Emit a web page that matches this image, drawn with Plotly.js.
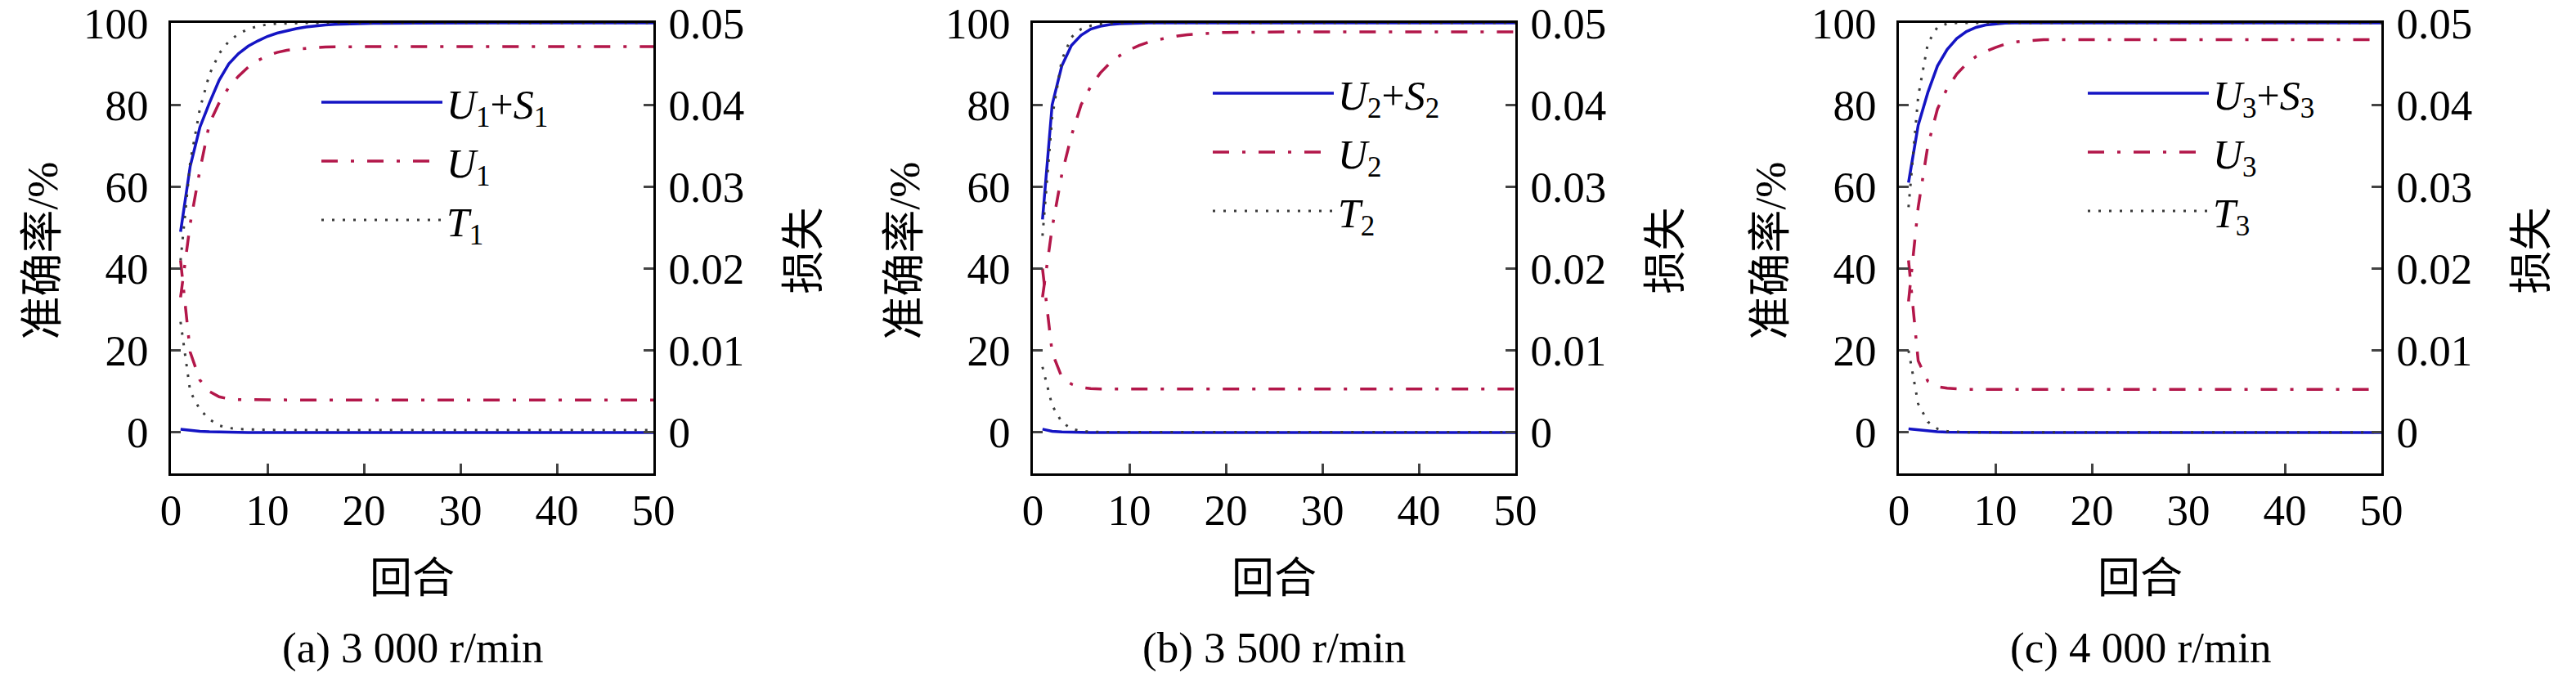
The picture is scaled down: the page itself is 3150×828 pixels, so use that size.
<!DOCTYPE html>
<html><head><meta charset="utf-8">
<script src="https://cdn.plot.ly/plotly-3.0.1.min.js"></script>
<style>html,body{margin:0;padding:0;background:#fff}#chart{width:3150px;height:828px}</style>
</head><body><div id="chart"></div>
<script>
const epochs=[1,2,3,4,5,6,7,8,9,10,11,12,13,14,15,16,17,18,19,20,21,22,23,24,25,26,27,28,29,30,31,32,33,34,35,36,37,38,39,40,41,42,43,44,45,46,47,48,49,50];

// Panel (a) 3 000 r/min
const accA_US=[49,65,74.5,80.5,86,90,92.5,94.3,95.6,96.7,97.5,98.1,98.6,99,99.3,99.5,99.65,99.75,99.82,99.87,99.9,99.92,99.94,99.95,99.96,99.97,99.97,99.98,99.98,99.99,99.99,99.99,99.99,100,100,100,100,100,100,100,100,100,100,100,100,100,100,100,100,100];
const accA_U=[33,51,64,75.5,80.5,84.3,87,89.2,90.8,92,92.8,93.3,93.6,93.8,94,94.1,94.15,94.2,94.2,94.2,94.2,94.2,94.2,94.2,94.2,94.2,94.2,94.2,94.2,94.2,94.2,94.2,94.2,94.2,94.2,94.2,94.2,94.2,94.2,94.2,94.2,94.2,94.2,94.2,94.2,94.2,94.2,94.2,94.2,94.2];
const accA_T=[42,66,79,87.5,92.5,95.5,97.3,98.5,99.2,99.6,99.8,99.9,99.95,100,100,100,100,100,100,100,100,100,100,100,100,100,100,100,100,100,100,100,100,100,100,100,100,100,100,100,100,100,100,100,100,100,100,100,100,100];
const lossA_US=[0.0004,0.00025,0.00014,0.00008,0.00004,0.00002,0.00001,0,0,0,0,0,0,0,0,0,0,0,0,0,0,0,0,0,0,0,0,0,0,0,0,0,0,0,0,0,0,0,0,0,0,0,0,0,0,0,0,0,0,0];
const lossA_U=[0.021,0.0098,0.0064,0.005,0.00435,0.0041,0.00402,0.004,0.00398,0.00396,0.00395,0.00395,0.00395,0.00395,0.00395,0.00395,0.00395,0.00395,0.00395,0.00395,0.00395,0.00395,0.00395,0.00395,0.00395,0.00395,0.00395,0.00395,0.00395,0.00395,0.00395,0.00395,0.00395,0.00395,0.00395,0.00395,0.00395,0.00395,0.00395,0.00395,0.00395,0.00395,0.00395,0.00395,0.00395,0.00395,0.00395,0.00395,0.00395,0.00395];
const lossA_T=[0.0135,0.005,0.0028,0.0016,0.00085,0.00055,0.00042,0.00036,0.00033,0.00031,0.0003,0.0003,0.0003,0.0003,0.0003,0.0003,0.0003,0.0003,0.0003,0.0003,0.0003,0.0003,0.0003,0.0003,0.0003,0.0003,0.0003,0.0003,0.0003,0.0003,0.0003,0.0003,0.0003,0.0003,0.0003,0.0003,0.0003,0.0003,0.0003,0.0003,0.0003,0.0003,0.0003,0.0003,0.0003,0.0003,0.0003,0.0003,0.0003,0.0003];

// Panel (b) 3 500 r/min
const accB_US=[52,80,89.5,94.5,97,98.5,99.2,99.6,99.8,99.9,99.95,100,100,100,100,100,100,100,100,100,100,100,100,100,100,100,100,100,100,100,100,100,100,100,100,100,100,100,100,100,100,100,100,100,100,100,100,100,100,100];
const accB_U=[33,50,63,72.5,80,84.5,87.8,90.2,92,93.4,94.5,95.3,95.9,96.4,96.8,97.1,97.3,97.5,97.6,97.65,97.7,97.75,97.8,97.8,97.8,97.8,97.8,97.8,97.8,97.8,97.8,97.8,97.8,97.8,97.8,97.8,97.8,97.8,97.8,97.8,97.8,97.8,97.8,97.8,97.8,97.8,97.8,97.8,97.8,97.8];
const accB_T=[48,77,91,96.5,98.5,99.3,99.7,99.9,100,100,100,100,100,100,100,100,100,100,100,100,100,100,100,100,100,100,100,100,100,100,100,100,100,100,100,100,100,100,100,100,100,100,100,100,100,100,100,100,100,100];
const lossB_US=[0.0004,0.00015,0.00006,0.00002,0,0,0,0,0,0,0,0,0,0,0,0,0,0,0,0,0,0,0,0,0,0,0,0,0,0,0,0,0,0,0,0,0,0,0,0,0,0,0,0,0,0,0,0,0,0];
const lossB_U=[0.02,0.00975,0.00675,0.0059,0.0055,0.00535,0.0053,0.0053,0.0053,0.0053,0.0053,0.0053,0.0053,0.0053,0.0053,0.0053,0.0053,0.0053,0.0053,0.0053,0.0053,0.0053,0.0053,0.0053,0.0053,0.0053,0.0053,0.0053,0.0053,0.0053,0.0053,0.0053,0.0053,0.0053,0.0053,0.0053,0.0053,0.0053,0.0053,0.0053,0.0053,0.0053,0.0053,0.0053,0.0053,0.0053,0.0053,0.0053,0.0053,0.0053];
const lossB_T=[0.008,0.0033,0.00125,0.00045,0.00015,0.00008,0.00005,0.00003,0.00003,0.00003,0.00003,0.00003,0.00003,0.00003,0.00003,0.00003,0.00003,0.00003,0.00003,0.00003,0.00003,0.00003,0.00003,0.00003,0.00003,0.00003,0.00003,0.00003,0.00003,0.00003,0.00003,0.00003,0.00003,0.00003,0.00003,0.00003,0.00003,0.00003,0.00003,0.00003,0.00003,0.00003,0.00003,0.00003,0.00003,0.00003,0.00003,0.00003,0.00003,0.00003];

// Panel (c) 4 000 r/min
const accC_US=[61,75,83,89.5,93.5,96.2,97.9,98.9,99.5,99.8,99.95,100,100,100,100,100,100,100,100,100,100,100,100,100,100,100,100,100,100,100,100,100,100,100,100,100,100,100,100,100,100,100,100,100,100,100,100,100,100,100];
const accC_U=[32,55,70,79,84,87.5,90,91.8,93,94,94.8,95.3,95.6,95.8,95.9,95.9,95.9,95.9,95.9,95.9,95.9,95.9,95.9,95.9,95.9,95.9,95.9,95.9,95.9,95.9,95.9,95.9,95.9,95.9,95.9,95.9,95.9,95.9,95.9,95.9,95.9,95.9,95.9,95.9,95.9,95.9,95.9,95.9,95.9,95.9];
const accC_T=[55,82,95,99,99.8,100,100,100,100,100,100,100,100,100,100,100,100,100,100,100,100,100,100,100,100,100,100,100,100,100,100,100,100,100,100,100,100,100,100,100,100,100,100,100,100,100,100,100,100,100];
const lossC_US=[0.00045,0.0003,0.00015,0.00008,0.00004,0.00002,0.00001,0,0,0,0,0,0,0,0,0,0,0,0,0,0,0,0,0,0,0,0,0,0,0,0,0,0,0,0,0,0,0,0,0,0,0,0,0,0,0,0,0,0,0];
const lossC_U=[0.021,0.00875,0.00625,0.0056,0.0054,0.0053,0.00525,0.00525,0.00525,0.00525,0.00525,0.00525,0.00525,0.00525,0.00525,0.00525,0.00525,0.00525,0.00525,0.00525,0.00525,0.00525,0.00525,0.00525,0.00525,0.00525,0.00525,0.00525,0.00525,0.00525,0.00525,0.00525,0.00525,0.00525,0.00525,0.00525,0.00525,0.00525,0.00525,0.00525,0.00525,0.00525,0.00525,0.00525,0.00525,0.00525,0.00525,0.00525,0.00525,0.00525];
const lossC_T=[0.01,0.0035,0.0013,0.00045,0.00015,0.00005,0.00002,0.00002,0.00002,0.00002,0.00002,0.00002,0.00002,0.00002,0.00002,0.00002,0.00002,0.00002,0.00002,0.00002,0.00002,0.00002,0.00002,0.00002,0.00002,0.00002,0.00002,0.00002,0.00002,0.00002,0.00002,0.00002,0.00002,0.00002,0.00002,0.00002,0.00002,0.00002,0.00002,0.00002,0.00002,0.00002,0.00002,0.00002,0.00002,0.00002,0.00002,0.00002,0.00002,0.00002];

const xTicks=[0,10,20,30,40,50];
const yTicks=[0,20,40,60,80,100];
const y2Ticks=[0,0.01,0.02,0.03,0.04,0.05];
const y2Text=["0","0.01","0.02","0.03","0.04","0.05"];
const xTitle="回合", yTitle="准确率/%", y2Title="损失";
const captions=["(a) 3 000 r/min","(b) 3 500 r/min","(c) 4 000 r/min"];
const legendNames=[
 ["<i>U</i><sub>1</sub>+<i>S</i><sub>1</sub>","<i>U</i><sub>1</sub>","<i>T</i><sub>1</sub>"],
 ["<i>U</i><sub>2</sub>+<i>S</i><sub>2</sub>","<i>U</i><sub>2</sub>","<i>T</i><sub>2</sub>"],
 ["<i>U</i><sub>3</sub>+<i>S</i><sub>3</sub>","<i>U</i><sub>3</sub>","<i>T</i><sub>3</sub>"]];

const FONT="'Liberation Serif', 'Noto Sans CJK SC', serif";
const BLUE="#1414c4", RED="#b3174a", DOT="#3a3a3a";
const styles=[
 {color:BLUE,width:3.5,dash:"solid"},
 {color:RED,width:3.5,dash:"20px,16px,4px,16px"},
 {color:DOT,width:3,dash:"3px,10px"}];

const panels=[
 {acc:[accA_US,accA_U,accA_T],loss:[lossA_US,lossA_U,lossA_T]},
 {acc:[accB_US,accB_U,accB_T],loss:[lossB_US,lossB_U,lossB_T]},
 {acc:[accC_US,accC_U,accC_T],loss:[lossC_US,lossC_U,lossC_T]}];

const W=3150,H=828;
const plotL=[209,1263,2322], plotW=590, plotTop=28, plotBot=579;
const legX=[546,1636,2706], legY=[124,113,113];

const traces=[];
const layout={
 width:W,height:H,margin:{l:0,r:0,t:0,b:0},
 paper_bgcolor:"#ffffff",plot_bgcolor:"rgba(0,0,0,0)",
 font:{family:FONT,size:52,color:"#000"},
 showlegend:true,annotations:[]
};
const ann=(x,y,text,size,angle)=>({xref:"paper",yref:"paper",x:x/W,y:1-y/H,xanchor:"center",yanchor:"middle",
   text:text,showarrow:false,textangle:angle||0,font:{family:FONT,size:size}});
panels.forEach((p,i)=>{
 const xa = i===0?"x":"x"+(i+1);
 const ya1 = "y"+(i===0?"":(2*i+1));
 const ya2 = "y"+(2*i+2);
 const lg = i===0?"legend":"legend"+(i+1);
 for(let k=0;k<3;k++){
  traces.push({x:epochs,y:p.loss[k],xaxis:xa,yaxis:ya2,mode:"lines",line:styles[k],showlegend:false,hoverinfo:"skip"});
 }
 for(let k=0;k<3;k++){
  traces.push({x:epochs,y:p.acc[k],xaxis:xa,yaxis:ya1,mode:"lines",line:styles[k],name:legendNames[i][k],
    legend:lg,legendgroup:"g"+i+"_"+k,showlegend:true});
 }
 const d0=plotL[i]/W, d1=(plotL[i]+plotW)/W;
 const xKey = i===0?"xaxis":"xaxis"+(i+1);
 const y1Key = i===0?"yaxis":"yaxis"+(2*i+1);
 const y2Key = "yaxis"+(2*i+2);
 const yDom=[1-plotBot/H,1-plotTop/H];
 layout[xKey]={domain:[d0,d1],anchor:ya1,range:[0,50],tickvals:xTicks,ticks:"inside",ticklen:12,tickwidth:3,
   showline:true,linewidth:3,linecolor:"#000",mirror:true,showgrid:false,zeroline:false,
   ticklabelstandoff:-4,ticklabeloverflow:"allow",tickfont:{family:FONT,size:53}};
 layout[y1Key]={domain:yDom,anchor:xa,range:[-10,100],tickvals:yTicks,ticks:"inside",ticklen:12,tickwidth:3,
   showline:true,linewidth:3,linecolor:"#000",mirror:true,showgrid:false,zeroline:false,
   ticklabelstandoff:14,ticklabeloverflow:"allow",tickfont:{family:FONT,size:53}};
 layout[y2Key]={overlaying:ya1,anchor:xa,side:"right",range:[-0.005,0.05],tickvals:y2Ticks,ticktext:y2Text,
   ticks:"inside",ticklen:12,tickwidth:3,showline:true,linewidth:3,linecolor:"#000",showgrid:false,zeroline:false,
   ticklabelstandoff:5,ticklabeloverflow:"allow",tickfont:{family:FONT,size:53}};
 layout[lg]={x:(legX[i]-158)/W,y:1-(legY[i]-38)/H,xanchor:"left",yanchor:"top",bgcolor:"rgba(0,0,0,0)",
   borderwidth:0,font:{family:FONT,size:50},itemwidth:148,traceorder:"grouped",tracegroupgap:4};
 const cx=plotL[i]+plotW/2, cy=(plotTop+plotBot)/2+3;
 layout.annotations.push(ann(cx,792,captions[i],53,0));
 layout.annotations.push(ann(cx,707,xTitle,52,0));
 layout.annotations.push(ann(plotL[i]-158,cy,yTitle,53,-90));
 layout.annotations.push(ann(plotL[i]+plotW+183,cy,y2Title,53,-90));
});
Plotly.newPlot("chart",traces,layout,{staticPlot:true});
</script></body></html>
